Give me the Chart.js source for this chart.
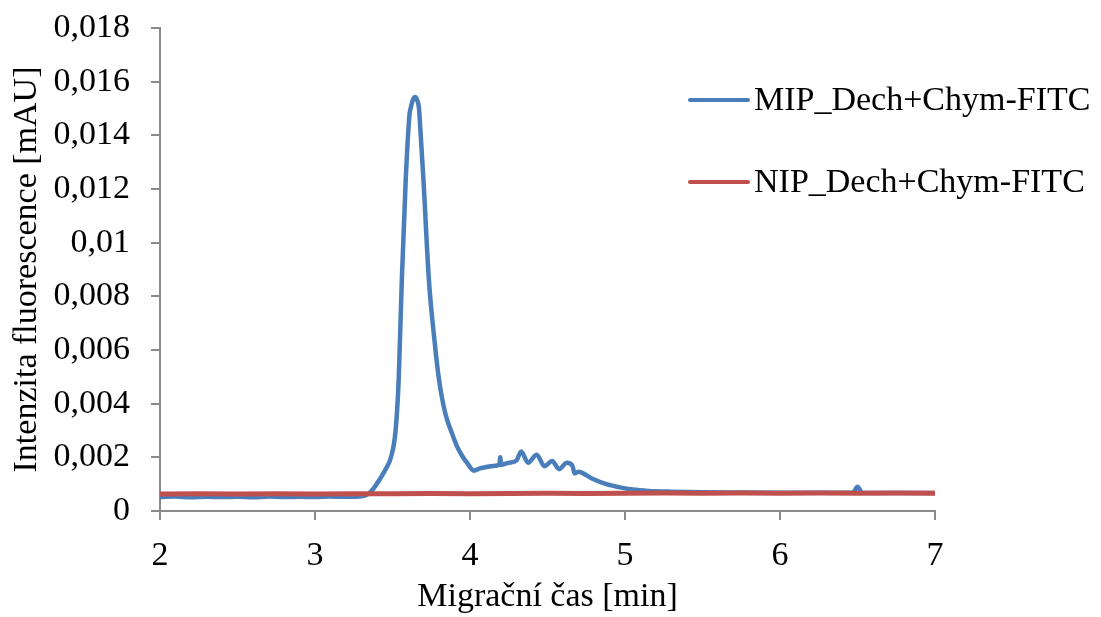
<!DOCTYPE html>
<html>
<head>
<meta charset="utf-8">
<title>Intenzita fluorescence</title>
<script src="https://cdn.jsdelivr.net/npm/chart.js@4"></script>
<style>
  body { margin: 0; background: #ffffff; }
  #chart { display: block; }
</style>
</head>
<body>
<canvas id="chart" width="1101" height="617"></canvas>
<script>
// Series labels
const seriesNames = ["MIP_Dech+Chym-FITC", "NIP_Dech+Chym-FITC"];

// MIP trace: migration time [min] and fluorescence [mAU]
const mipTime = [
  2.00, 2.10, 2.20, 2.30, 2.40, 2.50, 2.60, 2.70, 2.80, 2.90,
  3.00, 3.10, 3.20, 3.30, 3.34, 3.37, 3.42, 3.46, 3.49, 3.52,
  3.54, 3.56, 3.585, 3.61, 3.617, 3.63, 3.645, 3.66, 3.671, 3.68,
  3.70, 3.735, 3.77, 3.80, 3.84, 3.88, 3.917, 3.95, 3.98, 4.026,
  4.06, 4.10, 4.15, 4.19, 4.195, 4.20, 4.25, 4.30, 4.33, 4.375,
  4.43, 4.48, 4.53, 4.575, 4.625, 4.66, 4.675, 4.70, 4.72, 4.79,
  4.88, 4.96, 5.05, 5.15, 5.30, 5.50, 5.70, 6.00, 6.30, 6.47,
  6.50, 6.53, 6.80, 7.00
];
const mipValues = [
  0.00052, 0.00054, 0.00051, 0.00053, 0.00052, 0.00053, 0.00051, 0.00054, 0.00052, 0.00053,
  0.00052, 0.00054, 0.00053, 0.00055, 0.00062, 0.00078, 0.00120, 0.00160, 0.00200, 0.00300,
  0.00490, 0.00860, 0.01230, 0.01480, 0.01500, 0.01530, 0.01543, 0.01530, 0.01500, 0.01420,
  0.01230, 0.00860, 0.00640, 0.00490, 0.00365, 0.00295, 0.00240, 0.00205, 0.00180, 0.00150,
  0.00158, 0.00163, 0.00168, 0.00172, 0.00200, 0.00172, 0.00180, 0.00188, 0.00222, 0.00180,
  0.00210, 0.00167, 0.00186, 0.00156, 0.00180, 0.00170, 0.00140, 0.00146, 0.00143, 0.00120,
  0.00100, 0.00089, 0.00080, 0.00075, 0.00072, 0.00070, 0.00069, 0.00068, 0.00068, 0.00068,
  0.00090, 0.00068, 0.00067, 0.00067
];

// NIP trace: flat baseline
const nipTime = [
  2.00, 2.25, 2.50, 2.75, 3.00, 3.25, 3.50, 3.75, 4.00, 4.25,
  4.50, 4.75, 5.00, 5.25, 5.50, 5.75, 6.00, 6.25, 6.50, 6.75, 7.00
];
const nipValues = [
  0.00063, 0.00064, 0.00063, 0.00064, 0.00063, 0.00064, 0.00064, 0.00065, 0.00064, 0.00065,
  0.00066, 0.00065, 0.00066, 0.00067, 0.00066, 0.00067, 0.00066, 0.00067, 0.00066, 0.00067, 0.00066
];

// Axis ticks
const xTicks = [2, 3, 4, 5, 6, 7];
const yTicks = [0, 0.002, 0.004, 0.006, 0.008, 0.01, 0.012, 0.014, 0.016, 0.018];

const FONT = "'Times New Roman', 'Liberation Serif', serif";
const FONT_SIZE = 34;
const AXIS_GRAY = "#8a8a8a";

function toPoints(xs, ys) {
  return xs.map((x, i) => ({ x: x, y: ys[i] }));
}

// Draws the legend inside the plot, like the original
const legendPlugin = {
  id: "insideLegend",
  afterDraw(chart, args, opts) {
    const ctx = chart.ctx;
    ctx.save();
    ctx.font = FONT_SIZE + "px " + FONT;
    ctx.textBaseline = "middle";
    ctx.textAlign = "left";
    chart.data.datasets.forEach((ds, i) => {
      const y = opts.top + i * opts.step;
      ctx.strokeStyle = ds.borderColor;
      ctx.lineWidth = 4;
      ctx.lineCap = "round";
      ctx.beginPath();
      ctx.moveTo(opts.left, y);
      ctx.lineTo(opts.left + opts.lineLength, y);
      ctx.stroke();
      ctx.fillStyle = "#000000";
      ctx.fillText(ds.label, opts.left + opts.lineLength + 6, y + 1);
    });
    ctx.restore();
  }
};

const ctx = document.getElementById("chart");
new Chart(ctx, {
  type: "line",
  data: {
    datasets: [
      {
        label: seriesNames[0],
        data: toPoints(mipTime, mipValues),
        borderColor: "#4a7ebb",
        borderWidth: 4.5,
        borderJoinStyle: "round",
        borderCapStyle: "round",
        pointRadius: 0,
        cubicInterpolationMode: "monotone",
        order: 1
      },
      {
        label: seriesNames[1],
        data: toPoints(nipTime, nipValues),
        borderColor: "#c0504d",
        borderWidth: 5,
        pointRadius: 0,
        tension: 0,
        order: 0
      }
    ]
  },
  options: {
    responsive: false,
    animation: false,
    devicePixelRatio: 1,
    layout: { padding: { top: 28, right: 166, left: 0, bottom: 0 } },
    plugins: {
      legend: { display: false },
      tooltip: { enabled: false },
      insideLegend: { left: 690, top: 100, step: 82, lineLength: 58 }
    },
    scales: {
      x: {
        type: "linear",
        min: 2,
        max: 7,
        afterBuildTicks: scale => { scale.ticks = xTicks.map(v => ({ value: v })); },
        afterFit: scale => {
          scale.height = 106;
          scale.paddingLeft = 0;
          scale.paddingRight = 0;
        },
        ticks: {
          font: { family: FONT, size: FONT_SIZE },
          color: "#000000",
          padding: 16,
          maxRotation: 0
        },
        grid: {
          drawOnChartArea: false,
          drawTicks: true,
          tickLength: 9,
          color: AXIS_GRAY,
          lineWidth: 2
        },
        border: { color: AXIS_GRAY, width: 2 },
        title: {
          display: true,
          text: "Migrační čas [min]",
          font: { family: FONT, size: FONT_SIZE },
          color: "#000000",
          padding: { top: 0, bottom: 0 }
        }
      },
      y: {
        min: 0,
        max: 0.018,
        afterBuildTicks: scale => { scale.ticks = yTicks.map(v => ({ value: v })); },
        afterFit: scale => {
          scale.width = 160;
          scale.paddingTop = 0;
          scale.paddingBottom = 0;
        },
        ticks: {
          font: { family: FONT, size: FONT_SIZE },
          color: "#000000",
          padding: 21,
          callback: v => String(+v.toFixed(3)).replace(".", ",")
        },
        grid: {
          drawOnChartArea: false,
          drawTicks: true,
          tickLength: 9,
          color: AXIS_GRAY,
          lineWidth: 2
        },
        border: { color: AXIS_GRAY, width: 2 },
        title: {
          display: true,
          text: "Intenzita fluorescence [mAU]",
          font: { family: FONT, size: FONT_SIZE },
          color: "#000000",
          padding: { top: 7, bottom: 0 }
        }
      }
    }
  },
  plugins: [legendPlugin]
});
</script>
</body>
</html>
